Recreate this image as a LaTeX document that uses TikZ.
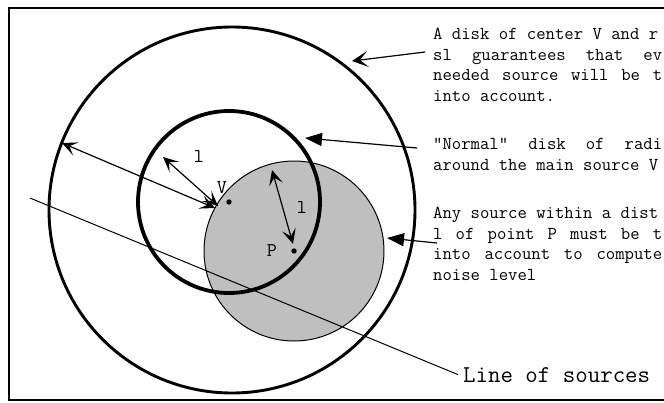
\documentclass[tikz,border=0pt]{standalone}
\usepackage{tikz}
\usetikzlibrary{
arrows.meta,
positioning,
calc
}

\begin{document}
\begin{tikzpicture}[
  x=1pt, y=-1pt,
  note/.style={font=\ttfamily\fontsize{18.2}{20.7}\selectfont, align=left, anchor=north west, inner sep=0pt},
  lbl/.style={font=\ttfamily\fontsize{19.5}{19.5}\selectfont, inner sep=0pt},
  ptr/.style={line width=1.2pt, -{Triangle[length=17pt, width=13pt]}},
  barb/.style={line width=1.2pt, -{Stealth[length=16pt, width=16pt, inset=8pt]}},
  dimen/.style={line width=1.2pt, {Stealth[length=15pt, width=14pt, inset=7pt]}-{Stealth[length=15pt, width=14pt, inset=7pt]}},
  >=Stealth
]
  \useasboundingbox (0,0) rectangle (664,402);
  \clip (0,0) rectangle (664,402);

  % Frame
  \draw[line width=1.3pt] (690,8) -- (9,8) -- (9,400) -- (690,400);

  \coordinate (V) at (229,202);
  \coordinate (P) at (294,251);
  \coordinate (C) at (232,210);

  % Disks
  \fill[black!25] (P) circle[radius=90];
  \draw[line width=1pt] (P) circle[radius=90];
  \draw[line width=2.9pt] (C) circle[radius=183];
  \draw[line width=3.8pt] (V) circle[radius=91];

  % Line of sources
  \coordinate (s0) at (30,198);
  \node[font=\ttfamily\fontsize{24.2}{24.2}\selectfont, anchor=base west, inner sep=5pt] (los) at (458,382) {Line of sources};
  \draw[line width=1pt] (s0) -- (los.west);

  % Sources
  \fill (V) circle[radius=2.7];
  \fill (P) circle[radius=2.7];
  \node[lbl] (lblV) at (222,188) {V};
  \node[lbl] (lblP) at (272,251) {P};
  \node[lbl] (lblA) at (199,157) {l};
  \node[lbl] (lblB) at (302,208) {l};

  % Radii
  \coordinate (r1) at (62,143);
  \coordinate (r2) at (215,208);
  \draw[dimen] (r1) -- (r2);
  \coordinate (la1) at (163,157);
  \coordinate (la2) at (218,206);
  \draw[dimen] (la1) -- (la2);
  \coordinate (lb1) at (272,170);
  \coordinate (lb2) at (293,244);
  \draw[dimen] (lb1) -- (lb2);

  % Notes
  \node[note] (n1) at (433,28) {A disk of center V and r\\
    \hbox to 229pt{sl\hfill guarantees\hfill that\hfill ev}\\
    \hbox to 229pt{needed\hfill source\hfill will\hfill be\hfill t}\\
    into account.};
  \node[note] (n2) at (433,138) {\hbox to 229pt{"Normal"\hfill disk\hfill of\hfill radi}\\
    around the main source V};
  \node[note] (n3) at (433,207) {Any source within a dist\\
    \hbox to 229pt{l\hfill of\hfill point\hfill P\hfill must\hfill be\hfill t}\\
    \hbox to 229pt{into\hfill account\hfill to\hfill compute}\\
    noise level};

  % Pointers
  \coordinate (a1) at (425,52);
  \coordinate (t1) at (352,61);
  \draw[barb] (a1) -- (t1);
  \coordinate (a2) at (417,148);
  \coordinate (t2) at (305,138);
  \draw[ptr] (a2) -- (t2);
  \coordinate (a3) at (437,243);
  \coordinate (t3) at (387,238);
  \draw[ptr] (a3) -- (t3);

\end{tikzpicture}
\end{document}
